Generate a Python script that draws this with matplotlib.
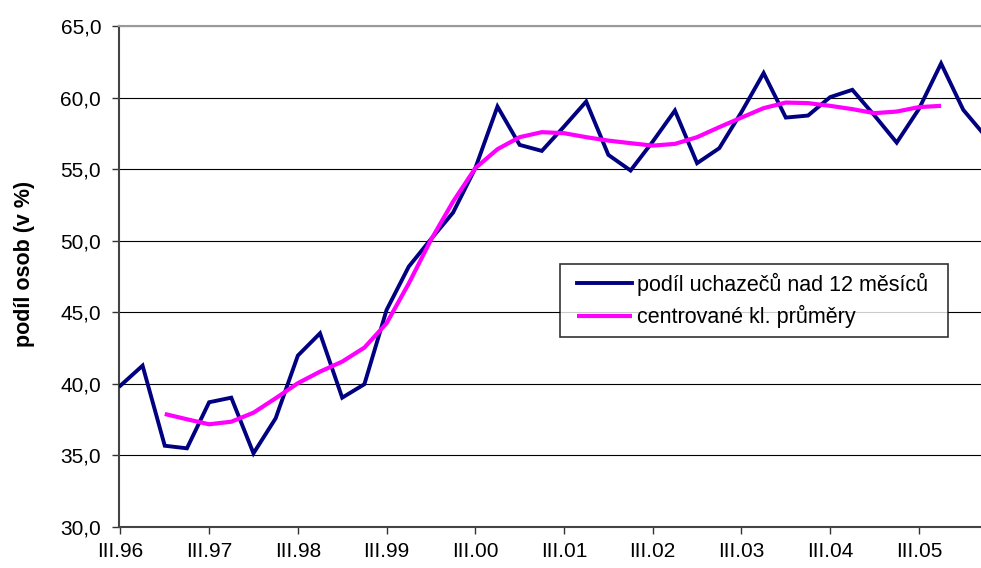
import matplotlib
matplotlib.use('Agg')
import matplotlib.pyplot as plt
from matplotlib.legend_handler import HandlerLine2D

plt.rcParams['font.family'] = ['Liberation Sans', 'DejaVu Sans']

# ctvrtleti III.96 ... II.06
podil = [39.86, 41.26, 35.66, 35.48, 38.70, 39.02, 35.13, 37.58, 41.96, 43.52,
         39.02, 39.96, 45.15, 48.18, 50.10, 51.96, 55.06, 59.37, 56.69, 56.27,
         57.97, 59.72, 55.99, 54.90, 56.92, 59.09, 55.41, 56.46, 58.98, 61.71,
         58.60, 58.74, 60.03, 60.54, 58.74, 56.85, 59.20, 62.38, 59.14, 57.30]

# centrovane klouzave prumery, od I.97 do IV.05
prumery = [37.88, 37.51, 37.16, 37.34, 37.97, 38.98, 40.03, 40.84, 41.54, 42.52,
           44.22, 47.00, 50.05, 52.73, 55.06, 56.39, 57.23, 57.58, 57.51, 57.23,
           56.99, 56.81, 56.64, 56.76, 57.23, 57.93, 58.60, 59.26, 59.65, 59.61,
           59.42, 59.19, 58.91, 59.02, 59.33, 59.42]
prumery_start = 2

tick_labels = ['III.96', 'III.97', 'III.98', 'III.99', 'III.00',
               'III.01', 'III.02', 'III.03', 'III.04', 'III.05']
yvals = [30, 35, 40, 45, 50, 55, 60, 65]

fig = plt.figure(figsize=(9.81, 5.68), dpi=100)
ax = fig.add_axes([0.1216, 0.0727, 0.8784, 0.8815])

x1 = list(range(len(podil)))
x2 = list(range(prumery_start, prumery_start + len(prumery)))

l1, = ax.plot(x1, podil, color='#000080', lw=2.8, solid_joinstyle='miter',
              label='podíl uchazečů nad 12 měsíců', zorder=3)
l2, = ax.plot(x2, prumery, color='#FF00FF', lw=3.0, solid_joinstyle='round',
              solid_capstyle='butt', label='centrované kl. průměry', zorder=4)

ax.set_xlim(-0.05, 38.8)
ax.set_ylim(30, 65)
ax.set_yticks(yvals)
ax.set_yticklabels([('%.1f' % v).replace('.', ',') for v in yvals])
ax.set_xticks(range(0, 40, 4))
ax.set_xticklabels(tick_labels)

ax.yaxis.grid(True, color='black', lw=0.8)
ax.set_axisbelow(True)
ax.tick_params(axis='both', labelsize=15, direction='out', length=5,
               width=1, color='#333333')
ax.tick_params(axis='y', pad=8)
ax.tick_params(axis='x', pad=6)

ax.spines['right'].set_visible(False)
ax.spines['top'].set_color('#999999')
ax.spines['top'].set_linewidth(1.5)
for s in ['left', 'bottom']:
    ax.spines[s].set_color('#444444')
    ax.spines[s].set_linewidth(1.5)

fig.text(25 / 981, 0.535, 'podíl osob (v %)', rotation=90, ha='center',
         va='center', fontsize=15.5, fontweight='bold')

hmap = {l1: HandlerLine2D(xpad=0.4), l2: HandlerLine2D(xpad=0.4)}
leg = ax.legend(loc='lower left', bbox_to_anchor=(0.511, 0.379, 0.4503, 0.149),
                mode='expand', fontsize=15.5,
                frameon=True, fancybox=False, edgecolor='black',
                handlelength=2.95, handletextpad=0.25, borderpad=0.4,
                labelspacing=0.45, borderaxespad=0, handler_map=hmap)
leg.get_frame().set_linewidth(1.2)

fig.savefig('out.png', dpi=100)
